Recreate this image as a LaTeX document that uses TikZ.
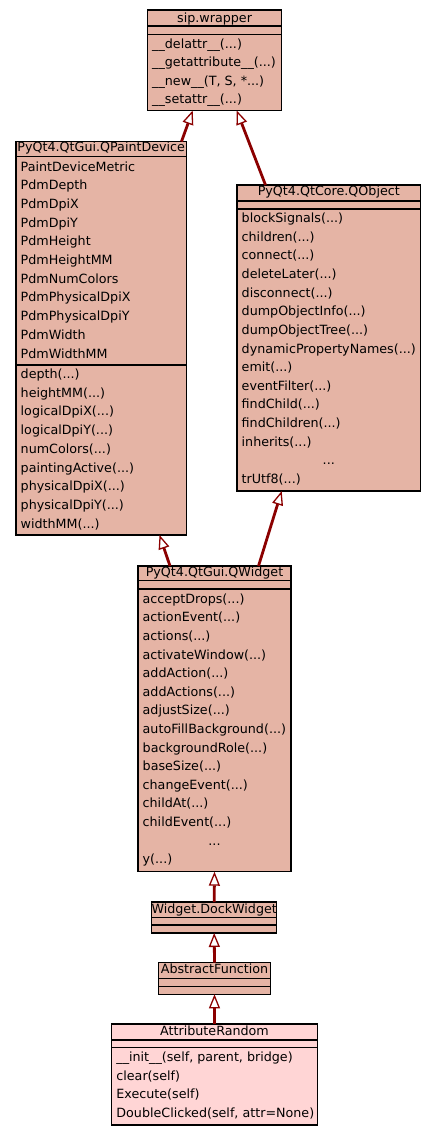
\documentclass[tikz,border=0pt]{standalone}
\usepackage{fontspec}
\setmainfont{DejaVu Sans}
\usetikzlibrary{arrows.meta}
\definecolor{boxfill}{RGB}{229,180,165}
\definecolor{pinkfill}{RGB}{255,213,213}
\definecolor{edgered}{RGB}{139,0,0}
\newcommand\threedots{...}
\newcommand\ar{(\threedots)}
\tikzset{
  umlbox/.style={draw=black, line width=1.1pt, fill=boxfill, rectangle, inner sep=0pt, outer sep=0pt, anchor=north west},
  sepline/.style={draw=black, line width=1.1pt},
  member/.style={inner sep=0pt, anchor=base west, font=\fontsize{12.7}{14}\selectfont},
  title/.style={inner sep=0pt, anchor=base, font=\fontsize{12.7}{14}\selectfont},
  inherit/.style={draw=edgered, line width=2.8pt, -{Triangle[length=14pt,width=11pt,fill=white,line width=1.3pt]}},
}
\begin{document}
\begin{tikzpicture}[x=1pt,y=-1pt]
\useasboundingbox (0,0) rectangle (437,1136);

% sip.wrapper
\node[umlbox, minimum width=134.2pt, minimum height=100.5pt] (sip) at (147.5,10) {};
\draw[sepline] (sip.west |- 0,26) -- (sip.east |- 0,26);
\draw[sepline] (sip.west |- 0,34.5) -- (sip.east |- 0,34.5);
\node[title] (sipT) at (214.6,22.5) {sip.wrapper};
\foreach \t [count=\i] in {{\_\_delattr\_\_\ar},{\_\_getattribute\_\_\ar},{\_\_new\_\_(T, S, *\threedots)},{\_\_setattr\_\_\ar}}
  \node[member] (sipm\i) at (152,{48+18.6*(\i-1)}) {\t};

% QPaintDevice
\node[umlbox, minimum width=170.5pt, minimum height=393.5pt] (qpd) at (16,141.5) {};
\draw[sepline] (qpd.west |- 0,156.7) -- (qpd.east |- 0,156.7);
\draw[sepline] (qpd.west |- 0,365) -- (qpd.east |- 0,365);
\node[title] (qpdT) at (101.2,151) {PyQt4.QtGui.QPaintDevice};
\foreach \t [count=\i] in {PaintDeviceMetric,PdmDepth,PdmDpiX,PdmDpiY,PdmHeight,PdmHeightMM,PdmNumColors,PdmPhysicalDpiX,PdmPhysicalDpiY,PdmWidth,PdmWidthMM}
  \node[member] (qpda\i) at (20.5,{171+18.7*(\i-1)}) {\t};
\foreach \t [count=\i] in {depth\ar,heightMM\ar,logicalDpiX\ar,logicalDpiY\ar,numColors\ar,paintingActive\ar,physicalDpiX\ar,physicalDpiY\ar,widthMM\ar}
  \node[member] (qpdm\i) at (20.5,{378.3+18.75*(\i-1)}) {\t};

% QObject
\node[umlbox, minimum width=183.7pt, minimum height=306pt] (qobj) at (237,185) {};
\draw[sepline] (qobj.west |- 0,201) -- (qobj.east |- 0,201);
\draw[sepline] (qobj.west |- 0,209) -- (qobj.east |- 0,209);
\node[title] (qobjT) at (328.8,195.7) {PyQt4.QtCore.QObject};
\foreach \t [count=\i] in {blockSignals\ar,children\ar,connect\ar,deleteLater\ar,disconnect\ar,dumpObjectInfo\ar,dumpObjectTree\ar,dynamicPropertyNames\ar,emit\ar,eventFilter\ar,findChild\ar,findChildren\ar,inherits\ar}
  \node[member] (qobjm\i) at (241.5,{222.7+18.62*(\i-1)}) {\t};
\node[title] (qobjdots) at (328.8,464.8) {\threedots};
\node[member] (qobjlast) at (241.5,483.4) {trUtf8\ar};

% QWidget
\node[umlbox, minimum width=153pt, minimum height=305.7pt] (qw) at (138,566) {};
\draw[sepline] (qw.west |- 0,580.7) -- (qw.east |- 0,580.7);
\draw[sepline] (qw.west |- 0,589) -- (qw.east |- 0,589);
\node[title] (qwT) at (214.5,576.7) {PyQt4.QtGui.QWidget};
\foreach \t [count=\i] in {acceptDrops\ar,actionEvent\ar,actions\ar,activateWindow\ar,addAction\ar,addActions\ar,adjustSize\ar,autoFillBackground\ar,backgroundRole\ar,baseSize\ar,changeEvent\ar,childAt\ar,childEvent\ar}
  \node[member] (qwm\i) at (142.5,{603.3+18.6*(\i-1)}) {\t};
\node[title] (qwdots) at (214.5,845.1) {\threedots};
\node[member] (qwlast) at (142.5,863.7) {y\ar};

% Widget.DockWidget
\node[umlbox, minimum width=125pt, minimum height=31pt] (dock) at (151.7,902) {};
\draw[sepline] (dock.west |- 0,917.7) -- (dock.east |- 0,917.7);
\draw[sepline] (dock.west |- 0,925) -- (dock.east |- 0,925);
\node[title] (dockT) at (214.2,913) {Widget.DockWidget};

% AbstractFunction
\node[umlbox, minimum width=112.4pt, minimum height=31.6pt] (absf) at (158.3,962.7) {};
\draw[sepline] (absf.west |- 0,978.7) -- (absf.east |- 0,978.7);
\draw[sepline] (absf.west |- 0,986.7) -- (absf.east |- 0,986.7);
\node[title] (absfT) at (214.5,973.3) {AbstractFunction};

% AttributeRandom
\node[umlbox, fill=pinkfill, minimum width=205.6pt, minimum height=101pt] (attr) at (111.7,1024) {};
\draw[sepline] (attr.west |- 0,1040) -- (attr.east |- 0,1040);
\draw[sepline] (attr.west |- 0,1047.3) -- (attr.east |- 0,1047.3);
\node[title] (attrT) at (214.5,1035.5) {AttributeRandom};
\foreach \t [count=\i] in {{\_\_init\_\_(self, parent, bridge)},{clear(self)},{Execute(self)},{DoubleClicked(self, attr=None)}}
  \node[member] (attrm\i) at (116.2,{1061.7+18.6*(\i-1)}) {\t};

% inheritance connectors
\draw[inherit] ([xshift=165.5pt]qpd.north west) -- ([xshift=45.2pt]sip.south west);
\draw[inherit] ([xshift=28.5pt]qobj.north west) -- ([xshift=89.2pt]sip.south west);
\draw[inherit] ([xshift=32pt]qw.north west) -- ([xshift=143.5pt]qpd.south west);
\draw[inherit] ([xshift=120.5pt]qw.north west) -- ([xshift=44.7pt]qobj.south west);
\draw[inherit] (dock.north) -- (qw.south);
\draw[inherit] (absf.north) -- (dock.south);
\draw[inherit] (attr.north) -- (absf.south);
\end{tikzpicture}
\end{document}
